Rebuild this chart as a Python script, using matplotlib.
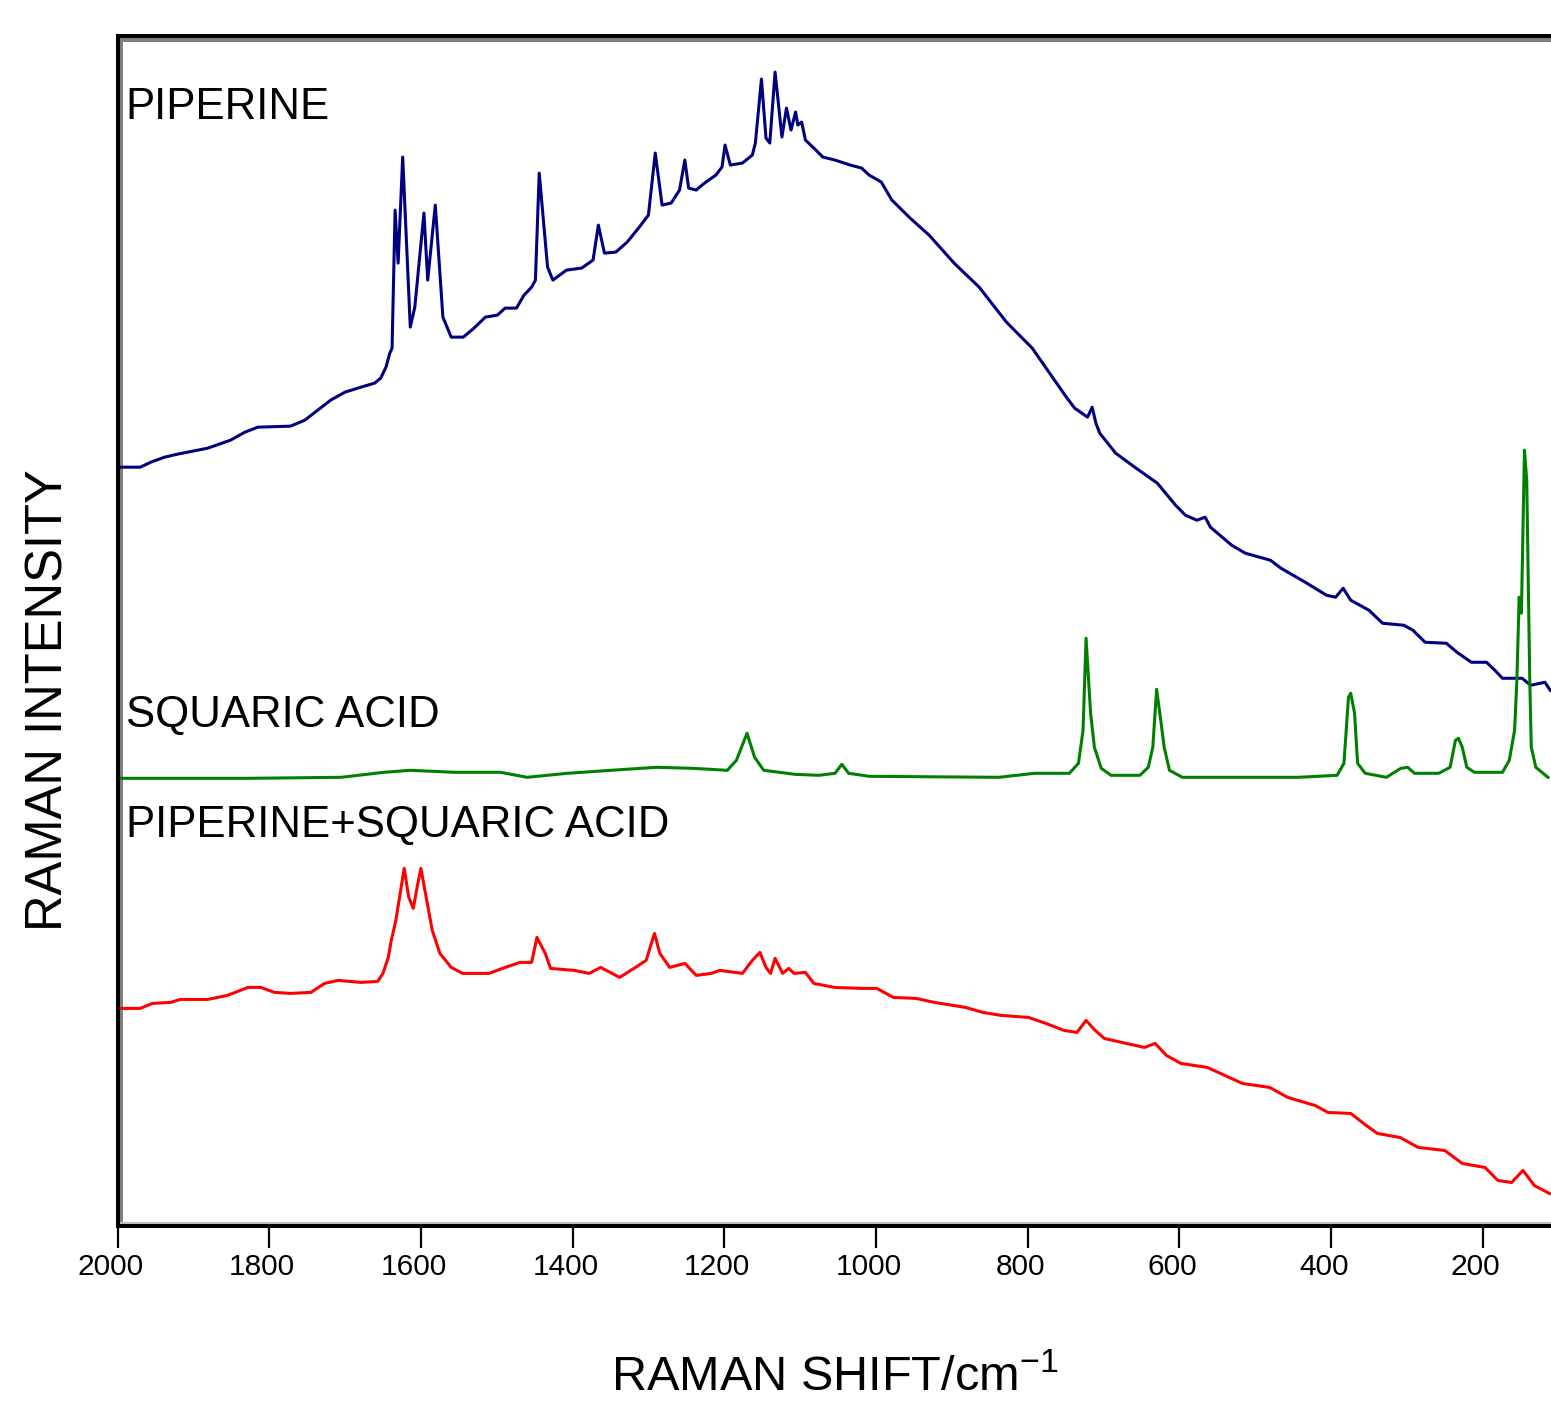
##############################################
#   Raman spectra: piperine / squaric acid    #
##############################################

import matplotlib
matplotlib.use("Agg")
import matplotlib.pyplot as plt
from matplotlib.transforms import offset_copy, ScaledTranslation

plt.rcParams["font.family"] = ["Liberation Sans", "DejaVu Sans"]
plt.rcParams["mathtext.default"] = "regular"

# Piperine (wavenumber cm-1, intensity a.u.)
pip_shift = [2000, 1970, 1956, 1938, 1921, 1894, 1881, 1851, 1832, 1815, 1772, 1753,
             1736, 1719, 1700, 1679, 1661, 1653, 1646, 1641, 1638, 1634, 1630, 1624,
             1614, 1608, 1596, 1591, 1581, 1571, 1560, 1544, 1530, 1515, 1499, 1489,
             1474, 1464, 1454, 1449, 1444, 1433, 1426, 1408, 1388, 1373, 1366, 1358,
             1343, 1328, 1312, 1300, 1291, 1282, 1270, 1259, 1252, 1247, 1237, 1226,
             1211, 1203, 1199, 1192, 1176, 1163, 1159, 1151, 1145, 1140, 1133, 1124,
             1118, 1112, 1106, 1103, 1098, 1093, 1082, 1070, 1054, 1034, 1019, 1009,
             993, 979, 955, 930, 897, 864, 828, 794, 749, 738, 721, 715, 710, 705, 684, 657,
             629, 605, 592, 577, 566, 559, 531, 513, 480, 466, 434, 406, 394, 384,
             374, 350, 332, 304, 292, 276, 248, 234, 215, 195, 184, 174, 148, 137,
             118, 111]
pip_int = [758, 758, 763, 768, 771, 775, 777, 785, 793, 798, 799, 805,
           815, 825, 833, 838, 842, 847, 858, 872, 877, 1015, 962, 1068,
           898, 918, 1012, 945, 1020, 908, 888, 888, 897, 908, 910, 917,
           917, 930, 938, 945, 1052, 958, 945, 955, 957, 965, 1000, 972,
           973, 983, 998, 1010, 1072, 1020, 1022, 1035, 1065, 1037, 1035, 1042,
           1050, 1058, 1080, 1060, 1062, 1070, 1082, 1146, 1087, 1082, 1153, 1088,
           1117, 1095, 1113, 1100, 1103, 1085, 1077, 1068, 1065, 1060, 1057, 1050,
           1043, 1025, 1007, 990, 962, 938, 903, 877, 828, 817, 808, 818, 802, 792, 772, 757,
           742, 720, 710, 705, 708, 698, 680, 672, 665, 657, 643, 630, 628, 637,
           625, 615, 602, 600, 595, 583, 582, 573, 563, 563, 555, 547, 547, 540,
           543, 535]

# Squaric acid
sq_shift = [2000, 1826, 1705, 1649, 1614, 1555, 1495, 1460, 1407, 1330, 1289, 1242,
            1196, 1184, 1170, 1160, 1148, 1107, 1075, 1054, 1045, 1036, 1009, 838,
            791, 745, 733, 727, 723, 717, 712, 703, 690, 652, 641, 635, 630, 624,
            620, 613, 596, 443, 392, 383, 377, 374, 369, 365, 355, 327, 308, 299,
            290, 258, 243, 236, 232, 227, 221, 211, 174, 165, 158, 155, 152, 149,
            145, 142, 138, 136, 130, 114]
sq_int = [447, 447, 448, 453, 455, 453, 453, 448, 452, 456, 458, 457,
          455, 465, 492, 468, 455, 451, 450, 452, 461, 452, 449, 448,
          452, 452, 462, 495, 587, 512, 478, 457, 450, 450, 458, 478, 536, 502,
          478, 455, 448, 448, 450, 462, 528, 532, 512, 462, 452, 448, 457, 458,
          452, 452, 458, 485, 487, 478, 458, 453, 453, 465, 495, 545, 628, 612,
          775, 745, 545, 478, 458, 448]

# Piperine + squaric acid
mix_shift = [2000, 1970, 1954, 1930, 1917, 1881, 1855, 1828, 1811, 1793, 1772, 1745,
             1727, 1709, 1679, 1657, 1650, 1643, 1639, 1633, 1626, 1622, 1616, 1610,
             1605, 1600, 1593, 1585, 1575, 1560, 1545, 1510, 1489, 1469, 1454, 1447,
             1436, 1429, 1398, 1378, 1363, 1338, 1317, 1303, 1292, 1285, 1272, 1252,
             1237, 1217, 1206, 1176, 1163, 1153, 1145, 1139, 1133, 1123, 1115, 1108,
             1093, 1082, 1055, 1019, 999, 977, 947, 923, 882, 859, 835, 799, 776,
             752, 735, 723, 711, 699, 670, 646, 632, 617, 598, 563, 540, 517, 481,
             457, 421, 404, 374, 357, 339, 309, 285, 250, 227, 197, 180, 162, 147,
             132, 112]
mix_int = [217, 217, 222, 223, 226, 226, 230, 238, 238, 233, 232, 233,
           242, 245, 243, 244, 252, 268, 285, 305, 338, 357, 328, 317,
           338, 357, 328, 295, 272, 258, 252, 252, 258, 263, 263, 288,
           272, 257, 255, 252, 258, 248, 258, 265, 292, 272, 258, 262,
           250, 252, 255, 252, 265, 273, 258, 252, 267, 252, 257, 252,
           253, 242, 238, 237, 237, 228, 227, 223, 218, 213, 210, 208, 202,
           195, 193, 205, 195, 187, 182, 178, 182, 170, 162, 158, 150, 142, 138,
           128, 120, 113, 112, 102, 92, 88, 78, 75, 62, 58, 45, 43, 55,
           40, 32]

xticks = [2000, 1800, 1600, 1400, 1200, 1000, 800, 600, 400, 200]

# Create plot
fig = plt.figure(figsize=(15.51, 14.07), dpi=100)
ax = fig.add_axes([117.5 / 1551, 1 - 1225.5 / 1407, 1 - 117.5 / 1551, 1189.5 / 1407])

ax.plot(pip_shift, pip_int, color="#000080", lw=2.2)
ax.plot(sq_shift, sq_int, color="#008000", lw=2.2)
ax.plot(mix_shift, mix_int, color="#ff0000", lw=2.2)

ax.set_xlim(2000, 110)
ax.set_ylim(0, 1189)

# Curve labels
ax.text(1989, 1106, "PIPERINE", fontsize=31.5, va="baseline", ha="left")
ax.text(1989, 498, "SQUARIC ACID", fontsize=31.5, va="baseline", ha="left")
ax.text(1989, 388, "PIPERINE+SQUARIC ACID", fontsize=31.5, va="baseline", ha="left")

# Frame: black spines with grey shadow on the inside
for side in ["left", "top", "bottom"]:
    ax.spines[side].set_linewidth(2.9)
    ax.spines[side].set_color("black")
ax.spines["right"].set_visible(False)

shadow_l = offset_copy(ax.transAxes, fig=fig, x=3.5, y=0, units="dots")
shadow_t = offset_copy(ax.transAxes, fig=fig, x=0, y=-4, units="dots")
shadow_b = offset_copy(ax.transAxes, fig=fig, x=0, y=3, units="dots")
ax.plot([0, 0], [0, 1], transform=shadow_l, color="#808080", lw=2.9, clip_on=False, zorder=1)
ax.plot([0, 1], [1, 1], transform=shadow_t, color="#808080", lw=2.9, clip_on=False, zorder=1)
ax.plot([0, 1], [0, 0], transform=shadow_b, color="#c0c0c0", lw=1.6, clip_on=False, zorder=1)

# Axes ticks and labels
ax.set_yticks([])
ax.set_xticks(xticks)
ax.set_xticklabels([str(t) for t in xticks], fontsize=21.5)
ax.tick_params(axis="x", direction="out", length=16, width=1.6, pad=3.5)
shift = ScaledTranslation(-7 / 100, 0, fig.dpi_scale_trans)
for lab in ax.get_xticklabels():
    lab.set_transform(lab.get_transform() + shift)

ax.set_xlabel("RAMAN SHIFT/cm$^{-1}$", fontsize=35, labelpad=54)
ax.set_ylabel("RAMAN INTENSITY", fontsize=36.5)
ax.yaxis.set_label_coords(-0.048, 0.442)
ax.yaxis.label.set_verticalalignment("center")

# Save plot
plt.savefig("out.png", dpi=100)
print("Saved plot")
